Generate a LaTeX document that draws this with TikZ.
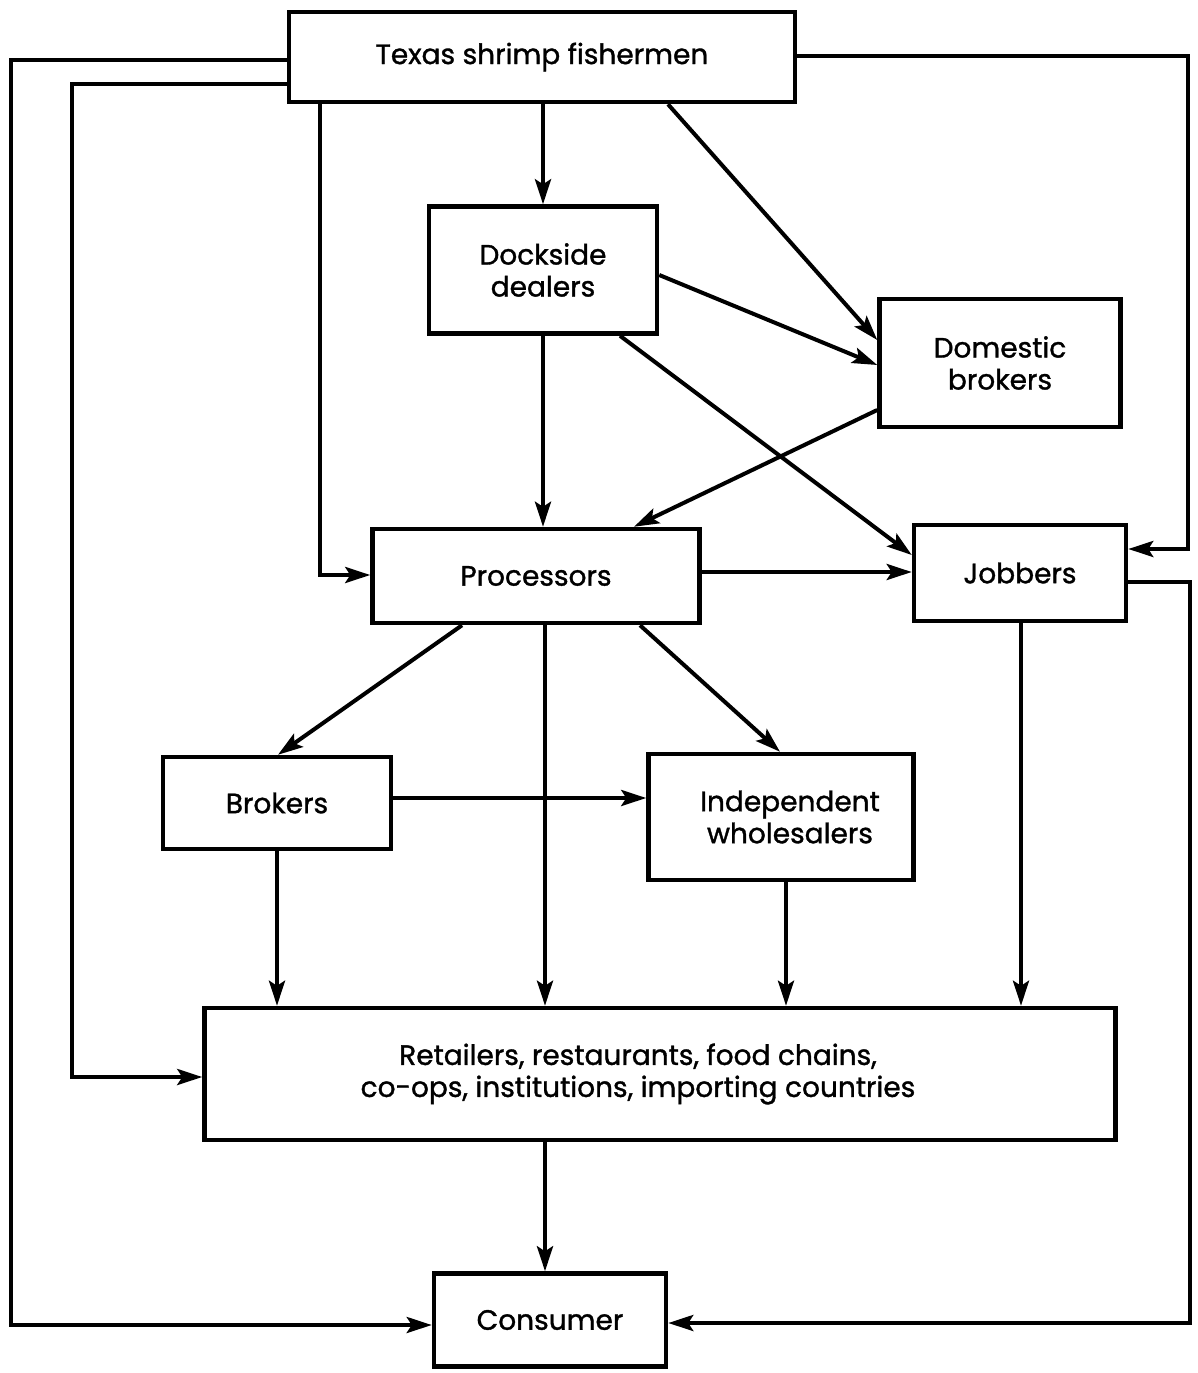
\documentclass[tikz,border=0pt]{standalone}
\usepackage{fontspec}
\setmainfont{Poppins}[BoldFont=Poppins, BoldFeatures={FakeBold=1.2}]
\usetikzlibrary{arrows.meta}
\begin{document}
\begin{tikzpicture}[x=1pt,y=-1pt,
  box/.style={draw, line width=4.5pt, align=center, inner sep=0pt,
    font=\fontsize{28}{32}\selectfont\bfseries},
  arr/.style={line width=4pt, -{Stealth[length=25pt,width=16pt,inset=5pt]}}]
\useasboundingbox (0,0) rectangle (1197,1373);
% boxes
\node[box, minimum width=506pt, minimum height=90pt] (fish) at (542,57) {\raisebox{-3pt}{Texas shrimp fishermen}};
\node[box, minimum width=228pt, minimum height=127pt] (dock) at (543,270) {Dockside\\dealers};
\node[box, minimum width=241pt, minimum height=128pt] (dom) at (1000,363) {Domestic\\brokers};
\node[box, minimum width=327pt, minimum height=94pt] (proc) at (536,576) {Processors};
\node[box, minimum width=212pt, minimum height=96pt] (job) at (1020,573) {Jobbers};
\node[box, minimum width=228pt, minimum height=92pt] (brk) at (277,803) {Brokers};
\node[box, minimum width=265pt, minimum height=126pt] (ind) at (781,817) {\hspace*{18pt}Independent\\\hspace*{18pt}wholesalers};
\node[box, minimum width=911pt, minimum height=132pt] (ret) at (660,1074) {\hspace*{-44pt}Retailers, restaurants, food chains,\\\hspace*{-44pt}co-ops, institutions, importing countries};
\node[box, minimum width=232pt, minimum height=93pt] (con) at (550,1320) {Consumer};
% helper coordinates
\coordinate (a1) at (11,60);
\coordinate (a2) at (11,1325);
\coordinate (b1) at (72,84);
\coordinate (b2) at (72,1077);
\coordinate (c1) at (320,575);
\coordinate (d1) at (668,0);
\coordinate (d2) at (0,340);
\coordinate (e1) at (1188,56);
\coordinate (e2) at (1188,549);
\coordinate (f1) at (1190,582);
\coordinate (f2) at (1190,1323);
\coordinate (g1) at (0,275);
\coordinate (g2) at (0,365);
\coordinate (h1) at (620,0);
\coordinate (h2) at (0,555);
\coordinate (i1) at (0,410);
\coordinate (i2) at (634,0);
\coordinate (j1) at (0,572);
\coordinate (k1) at (462,0);
\coordinate (k2) at (278,0);
\coordinate (l1) at (640,0);
\coordinate (l2) at (780,0);
\coordinate (m1) at (0,798);
\coordinate (n1) at (786,0);
\coordinate (o1) at (1021,0);
\coordinate (p1) at (545,0);
% connectors
\draw[arr] (fish.west |- a1) -- (a1) -- (a2) -- (con.west |- a2);
\draw[arr] (fish.west |- b1) -- (b1) -- (b2) -- (ret.west |- b2);
\draw[arr] (fish.south -| c1) -- (c1) -- (proc.west |- c1);
\draw[arr] (fish.south -| dock.north) -- (dock.north);
\draw[arr] (fish.south -| d1) -- (dom.west |- d2);
\draw[arr] (fish.east |- e1) -- (e1) -- (e2) -- (job.east |- e2);
\draw[arr] (dock.east |- g1) -- (dom.west |- g2);
\draw[arr] (dock.south) -- (proc.north -| dock.south);
\draw[arr] (dock.south -| h1) -- (job.west |- h2);
\draw[arr] (dom.west |- i1) -- (proc.north -| i2);
\draw[arr] (proc.east |- j1) -- (job.west |- j1);
\draw[arr] (proc.south -| k1) -- (brk.north -| k2);
\draw[arr] (proc.south -| p1) -- (ret.north -| p1);
\draw[arr] (proc.south -| l1) -- (ind.north -| l2);
\draw[arr] (brk.east |- m1) -- (ind.west |- m1);
\draw[arr] (brk.south) -- (ret.north -| brk.south);
\draw[arr] (ind.south -| n1) -- (ret.north -| n1);
\draw[arr] (job.south -| o1) -- (ret.north -| o1);
\draw[arr] (job.east |- f1) -- (f1) -- (f2) -- (con.east |- f2);
\draw[arr] (ret.south -| p1) -- (con.north -| p1);
\end{tikzpicture}
\end{document}
